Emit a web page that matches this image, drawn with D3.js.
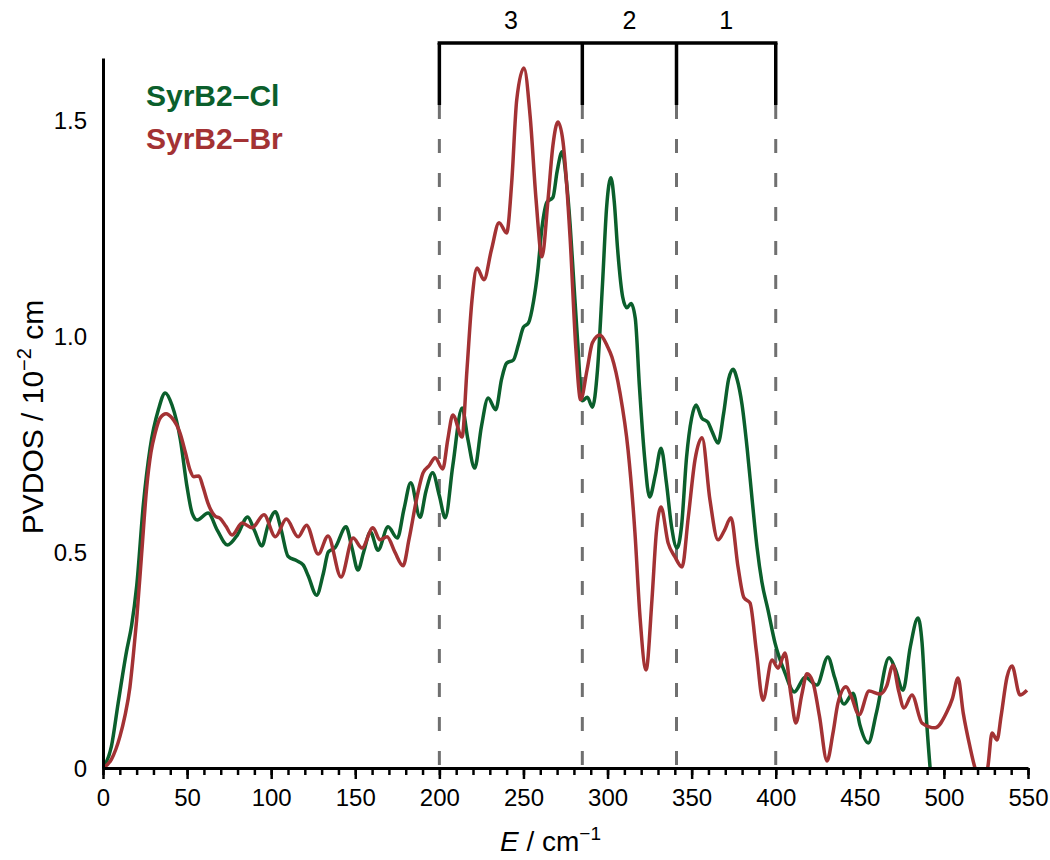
<!DOCTYPE html>
<html>
<head>
<meta charset="utf-8">
<script src="https://cdn.jsdelivr.net/npm/d3@7"></script>
<style>
  body { margin: 0; background: #fff; }
  #chart-panel { width: 1050px; height: 860px; }
  text { font-family: "Liberation Sans", Arial, Helvetica, sans-serif; fill: #000; }
</style>
</head>
<body>
<div id="chart-panel"></div>
<script>
// ************************** DATOS *******************************************

// SyrB2-Cl (verde)
const cl_energy = [0, 5, 9, 14, 17, 20, 24, 28, 33, 37, 41, 46, 50, 53, 56, 62.5,
    68, 74, 80, 86, 90, 94.5, 98, 102.5, 106, 110, 115, 119, 122, 127, 131, 134,
    138, 144.5, 148, 151.6, 155, 159, 163.5, 169.5, 175, 179, 183, 188.5, 192,
    196, 200, 203.5, 208, 213.5, 217, 221, 225, 229, 233.5, 237, 240, 244, 247,
    250, 253, 256, 258.5, 261, 264, 267.5, 270, 273, 275.5, 277.7, 280, 282, 285,
    288, 291, 294, 297, 299.5, 302, 304, 306, 309, 311.5, 314, 316.5, 319, 322,
    325, 328.5, 331.8, 335, 338, 341.3, 344, 347, 350, 352.6, 356, 359.7, 362,
    365.7, 369, 372, 374.6, 377, 380, 383, 386, 388.9, 391.8, 395.4, 399.6, 405.5,
    411, 417.5, 424.5, 431, 435, 440.6, 446, 450, 455, 460, 467.4, 471, 475.7,
    480, 484.6, 487, 489.5, 492];
const cl_pvdos = [0, 0.05, 0.15, 0.27, 0.33, 0.42, 0.61, 0.74, 0.83, 0.868, 0.84,
    0.76, 0.65, 0.59, 0.574, 0.59, 0.55, 0.516, 0.54, 0.581, 0.55, 0.514, 0.56,
    0.593, 0.55, 0.49, 0.48, 0.47, 0.445, 0.40, 0.45, 0.50, 0.51, 0.558, 0.51,
    0.458, 0.5, 0.546, 0.504, 0.558, 0.532, 0.60, 0.66, 0.58, 0.64, 0.683, 0.63,
    0.579, 0.70, 0.833, 0.76, 0.694, 0.79, 0.856, 0.829, 0.90, 0.937, 0.944, 0.98,
    1.02, 1.03, 1.08, 1.15, 1.25, 1.31, 1.32, 1.38, 1.426, 1.36, 1.26, 1.12, 1.0,
    0.85, 0.858, 0.835, 0.92, 1.12, 1.30, 1.366, 1.31, 1.2, 1.09, 1.065, 1.075,
    1.04, 0.88, 0.72, 0.627, 0.68, 0.74, 0.66, 0.56, 0.509, 0.56, 0.72, 0.81,
    0.84, 0.81, 0.80, 0.78, 0.752, 0.82, 0.90, 0.923, 0.90, 0.84, 0.74, 0.62,
    0.51, 0.43, 0.366, 0.289, 0.22, 0.176, 0.21, 0.192, 0.257, 0.21, 0.148, 0.173,
    0.10, 0.058, 0.13, 0.255, 0.23, 0.18, 0.28, 0.347, 0.29, 0.12, -0.01];

// SyrB2-Br (rojo)
const br_energy = [0, 5, 10, 13, 16, 18, 20, 23, 26, 28.5, 31, 34, 37.5, 41, 45.8,
    49, 51.7, 54, 57, 59.5, 62.4, 66.6, 69.5, 73, 76.7, 82.7, 88.6, 95.7, 102.5,
    109, 116, 121, 128, 133.8, 141.5, 148.7, 154, 160.5, 164.7, 168.9, 173.5,
    178.4, 182, 186.7, 190.3, 194, 197.5, 202, 205, 208, 213.5, 216.4, 219.4,
    222.4, 226.5, 231, 235.5, 240, 243, 246, 250.3, 254, 257.5, 261, 264.6, 267.5,
    270.5, 273.5, 277.7, 281.2, 284, 287.8, 291, 295.5, 300, 302.6, 307.4, 312.2,
    316.3, 319.3, 322.9, 326.4, 329, 331.8, 336, 340, 344.3, 348, 352, 356.2,
    360.9, 365.7, 369.5, 373.4, 377.6, 381.1, 384.7, 388.5, 392.4, 397.8, 401.4,
    405.5, 409, 412, 415.5, 418.6, 422, 426, 430.5, 434, 437, 441.8, 445, 449.5,
    455.5, 462, 466, 469.7, 473, 476.3, 481, 487, 494.7, 501.8, 505, 508.4, 511.5,
    515.5, 518.5, 522, 526, 528.6, 531.6, 534, 537.5, 540.5, 545.2, 549.4];
const br_pvdos = [0, 0.02, 0.072, 0.12, 0.187, 0.26, 0.343, 0.497, 0.65, 0.73,
    0.775, 0.81, 0.82, 0.81, 0.775, 0.73, 0.69, 0.674, 0.676, 0.65, 0.613, 0.583,
    0.578, 0.56, 0.539, 0.567, 0.556, 0.586, 0.535, 0.576, 0.535, 0.562, 0.495,
    0.537, 0.442, 0.532, 0.509, 0.556, 0.528, 0.535, 0.50, 0.468, 0.53, 0.627,
    0.683, 0.70, 0.718, 0.692, 0.76, 0.817, 0.766, 0.921, 1.083, 1.157, 1.13, 1.2,
    1.262, 1.238, 1.354, 1.546, 1.62, 1.507, 1.315, 1.183, 1.315, 1.44, 1.495,
    1.45, 1.229, 0.968, 0.852, 0.921, 0.984, 1.002, 0.975, 0.951, 0.868, 0.736,
    0.544, 0.35, 0.227, 0.389, 0.544, 0.604, 0.521, 0.489, 0.465, 0.58, 0.713,
    0.764, 0.62, 0.528, 0.55, 0.579, 0.465, 0.394, 0.382, 0.27, 0.157, 0.25,
    0.231, 0.266, 0.17, 0.104, 0.17, 0.218, 0.20, 0.12, 0.016, 0.08, 0.15, 0.188,
    0.165, 0.123, 0.178, 0.171, 0.19, 0.238, 0.18, 0.139, 0.169, 0.104, 0.093,
    0.13, 0.16, 0.208, 0.127, 0.049, 0.0, -0.03, 0.0, 0.081, 0.065, 0.12, 0.21,
    0.236, 0.169, 0.18];

const series_names = ["SyrB2\u2013Cl", "SyrB2\u2013Br"];
const x_ticks = d3.range(0, 551, 50);
const x_minor_ticks = d3.range(0, 551, 10);
const y_ticks = [0, 0.5, 1.0, 1.5];
const region_edges = [200, 285, 341, 400];
const region_labels = ["3", "2", "1"];


// ************************** GRAFICO *****************************************

/**
 * Gráfico de PVDOS de las dos muestras.
 */
class PvdosChart{
    constructor(container_selector){
        this.colors = {cl: "#0b5f2c", br: "#a33234", guide: "#707070"};
        this.margin = {top: 58, bottom: 92, left: 103, right: 22};
        this.container_selector = container_selector;
        this.create_chart();
    }

    get width(){ return 1050 - this.margin.left - this.margin.right; }
    get height(){ return 860 - this.margin.top - this.margin.bottom; }

    create_chart(){
        this.svg = d3.select(this.container_selector)
            .append("svg")
            .attr("width", 1050)
            .attr("height", 860)
            .append("g")
            .attr("transform",
                "translate(" + this.margin.left + "," + this.margin.top + ")");

        this.x = d3.scaleLinear().domain([0, 550]).range([0, this.width]);
        this.y = d3.scaleLinear().domain([0, 1.643]).range([this.height, 0]);

        this.create_regions();
        this.create_lines();
        this.create_axes();
        this.create_legend();
    }

    /**
     * Corchete superior con las regiones 3, 2, 1 y las líneas discontinuas.
     */
    create_regions(){
        const x = this.x;
        const top = 43 - this.margin.top;
        const foot = 105 - this.margin.top;

        this.svg.selectAll(".guide")
            .data(region_edges)
            .enter()
            .append("line")
            .attr("class", "guide")
            .attr("x1", d => x(d)).attr("x2", d => x(d))
            .attr("y1", foot).attr("y2", this.height)
            .style("stroke", this.colors.guide)
            .style("stroke-width", 3)
            .style("stroke-dasharray", "14,20");

        this.svg.selectAll(".bracket-leg")
            .data(region_edges)
            .enter()
            .append("line")
            .attr("class", "bracket-leg")
            .attr("x1", d => x(d)).attr("x2", d => x(d))
            .attr("y1", top).attr("y2", foot)
            .style("stroke", "#000")
            .style("stroke-width", 3.5);

        this.svg.append("line")
            .attr("x1", x(region_edges[0]) - 1.75)
            .attr("x2", x(region_edges[region_edges.length - 1]) + 1.75)
            .attr("y1", top).attr("y2", top)
            .style("stroke", "#000")
            .style("stroke-width", 3.5);

        this.svg.selectAll(".region-label")
            .data(region_labels)
            .enter()
            .append("text")
            .attr("class", "region-label")
            .attr("x", (d, i) => (x(region_edges[i]) + x(region_edges[i + 1])) / 2)
            .attr("y", 29 - this.margin.top)
            .attr("text-anchor", "middle")
            .style("font-size", "25px")
            .text(d => d);
    }

    create_lines(){
        const x = this.x, y = this.y;

        this.svg.append("clipPath")
            .attr("id", "plot-clip")
            .append("rect")
            .attr("x", 0).attr("y", -this.margin.top)
            .attr("width", this.width + 5)
            .attr("height", this.height + this.margin.top + 1);

        const line = d3.line()
            .x(d => x(d[0]))
            .y(d => y(d[1]))
            .curve(d3.curveMonotoneX);

        const series = [
            {data: d3.zip(cl_energy, cl_pvdos), color: this.colors.cl},
            {data: d3.zip(br_energy, br_pvdos), color: this.colors.br}
        ];

        this.svg.selectAll(".series")
            .data(series)
            .enter()
            .append("path")
            .attr("class", "series")
            .attr("clip-path", "url(#plot-clip)")
            .attr("d", d => line(d.data))
            .style("fill", "none")
            .style("stroke", d => d.color)
            .style("stroke-width", 3.5)
            .style("stroke-linejoin", "round");
    }

    create_axes(){
        const x = this.x, y = this.y;

        // ticks menores cada 10
        const minor = this.svg.append("g")
            .attr("transform", "translate(0," + this.height + ")")
            .call(d3.axisBottom(x).tickValues(x_minor_ticks)
                .tickSize(7).tickFormat(""));
        minor.select(".domain").remove();

        const bottom = this.svg.append("g")
            .attr("transform", "translate(0," + this.height + ")")
            .call(d3.axisBottom(x).tickValues(x_ticks)
                .tickSize(11).tickSizeOuter(0).tickPadding(10));

        const left = this.svg.append("g")
            .call(d3.axisLeft(y).tickValues(y_ticks)
                .tickSize(0).tickSizeOuter(0).tickPadding(16)
                .tickFormat(d => d === 0 ? "0" : d3.format(".1f")(d)));

        this.svg.selectAll(".tick line")
            .style("stroke", "#000").style("stroke-width", 2.5);
        this.svg.selectAll(".domain")
            .style("stroke", "#000").style("stroke-width", 3);
        this.svg.selectAll(".tick text")
            .style("font-size", "24px")
            .style("font-family", "'Liberation Sans', Arial, sans-serif")
            .style("fill", "#000");
        left.selectAll(".tick text").attr("dy", "0.35em");

        // titulo eje x
        const xt = this.svg.append("text")
            .attr("x", 500 - this.margin.left)
            .attr("y", 851 - this.margin.top)
            .style("font-size", "28px");
        xt.append("tspan").style("font-style", "italic").text("E");
        xt.append("tspan").text(" / cm");
        xt.append("tspan").attr("dy", -11).style("font-size", "19px").text("\u22121");

        // titulo eje y
        const yt = this.svg.append("text")
            .attr("transform", "translate(" + (43 - this.margin.left) + ","
                + (417 - this.margin.top) + ") rotate(-90)")
            .attr("text-anchor", "middle")
            .style("font-size", "30px");
        yt.append("tspan").text("PVDOS / 10");
        yt.append("tspan").attr("dy", -12).style("font-size", "20px").text("\u22122");
        yt.append("tspan").attr("dy", 12).text(" cm");
    }

    create_legend(){
        const self = this;
        this.svg.selectAll(".legend")
            .data(series_names)
            .enter()
            .append("text")
            .attr("class", "legend")
            .attr("x", 146 - this.margin.left)
            .attr("y", (d, i) => 106 + i * 43 - self.margin.top)
            .style("font-size", "30px")
            .style("font-weight", "bold")
            .style("fill", (d, i) => i === 0 ? self.colors.cl : self.colors.br)
            .text(d => d);
    }
}

const chart = new PvdosChart("#chart-panel");
</script>
</body>
</html>
